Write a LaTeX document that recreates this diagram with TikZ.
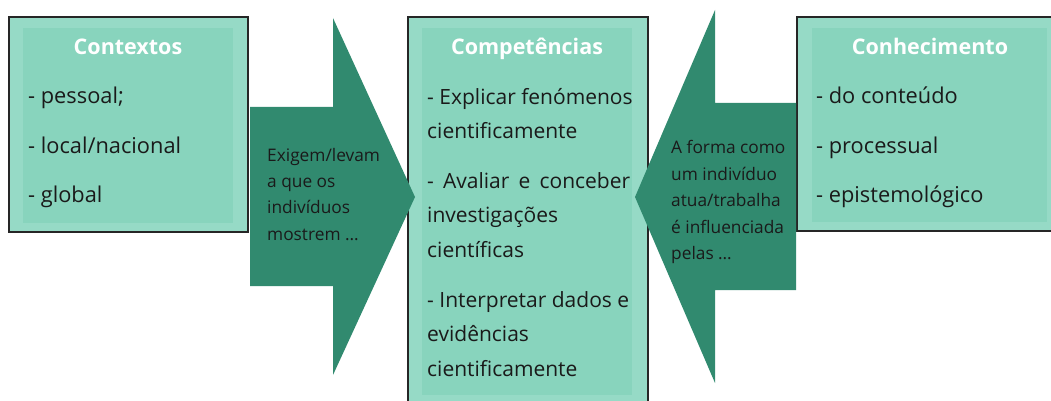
\documentclass[tikz,border=0pt]{standalone}
\usepackage{fontspec}
\setmainfont{Open Sans}
\definecolor{outerc}{HTML}{96DAC6}
\definecolor{innerc}{HTML}{88D4BD}
\definecolor{arrowc}{HTML}{318A6F}
\definecolor{borderc}{HTML}{262626}
\definecolor{txtc}{HTML}{1A1A1A}
\tikzset{
  outerbox/.style={fill=outerc, draw=borderc, line width=1.5pt},
  innerbox/.style={fill=innerc},
  bigarrow/.style={fill=arrowc},
  ttl/.style={anchor=base, inner sep=0pt, text=white, font=\fontsize{21.5}{26}\selectfont\bfseries},
  ln/.style={anchor=base west, inner sep=0pt, text=txtc, font=\fontsize{21}{26}\selectfont},
  sln/.style={ln, font=\fontsize{21.8}{26}\selectfont},
  aln/.style={anchor=base west, inner sep=0pt, text=txtc, font=\fontsize{17.3}{22}\selectfont},
}
\begin{document}
\begin{tikzpicture}[x=1pt,y=-1pt]
\useasboundingbox (0,0) rectangle (1051,401);
\begin{scope}
\clip (0,0) rectangle (1051,401);
% boxes
\draw[outerbox] (9,17) rectangle (248,232);
\fill[innerbox] (23,28) rectangle (233,223);
\draw[outerbox] (408,17) rectangle (648,420);
\fill[innerbox] (422,28) rectangle (632,395);
\draw[outerbox] (797,17) rectangle (1070,231);
\fill[innerbox] (812,28) rectangle (1047,222);
% arrows
\fill[bigarrow] (250,107) -- (333,107) -- (333,18) -- (415,197) -- (333,375) -- (333,286) -- (250,286) -- cycle;
\fill[bigarrow] (796,103) -- (715,103) -- (715,10) -- (635,197) -- (715,383) -- (715,290) -- (796,290) -- cycle;
\end{scope}
% left box text
\node[ttl] (t1) at (128,55) {Contextos};
\node[sln] (l1) at (28,104) {- pessoal;};
\node[sln] (l2) at (28,153) {- local/nacional};
\node[sln] (l3) at (28,202) {- global};
% middle box text
\node[ttl] (t2) at (527,55) {Competências};
\node[ln] (m1) at (427,105) {- Explicar fenómenos};
\node[ln] (m2) at (427,139) {cientificamente};
\node[ln] (m3) at (427,188) {\hbox to 203pt{-\hfil Avaliar\hfil e\hfil conceber}};
\node[ln] (m4) at (427,222) {investigações};
\node[ln] (m5) at (427,257) {científicas};
\node[ln] (m6) at (427,307) {- Interpretar dados e};
\node[ln] (m7) at (427,341) {evidências};
\node[ln] (m8) at (427,376) {cientificamente};
% right box text
\node[ttl] (t3) at (930,55) {Conhecimento};
\node[sln] (r1) at (816,104) {- do conteúdo};
\node[sln] (r2) at (816,153) {- processual};
\node[sln] (r3) at (816,202) {- epistemológico};
% left arrow text
\node[aln] (a1) at (267,161) {Exigem/levam};
\node[aln] (a2) at (267,187) {a que os};
\node[aln] (a3) at (267,213) {indivíduos};
\node[aln] (a4) at (267,240) {mostrem …};
% right arrow text
\node[aln] (b1) at (671,153) {A forma como};
\node[aln] (b2) at (671,180) {um indivíduo};
\node[aln] (b3) at (671,206) {atua/trabalha};
\node[aln] (b4) at (671,233) {é influenciada};
\node[aln] (b5) at (671,259) {pelas …};
\end{tikzpicture}
\end{document}
